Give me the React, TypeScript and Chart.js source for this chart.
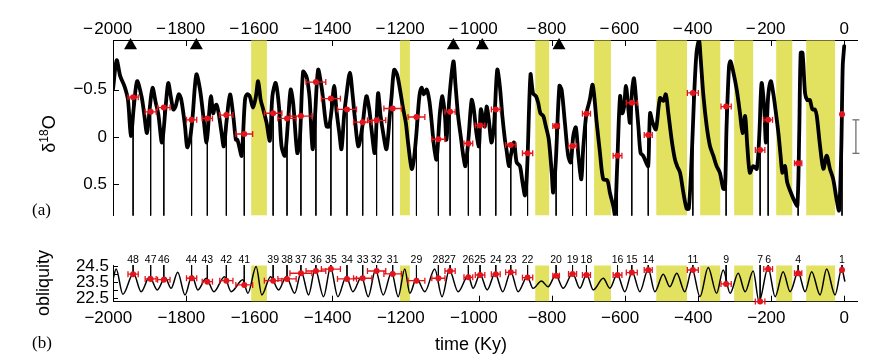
import React, { useEffect, useRef } from "react";
import { Chart, registerables } from "chart.js";
Chart.register(...registerables);

const FONT = "'Liberation Sans', Arial, Helvetica, sans-serif";
const SERIF = "'Liberation Serif', 'Times New Roman', serif";
const RED = "#e3141b";
const BAND = "rgb(226,226,96)";

// axis limits
const AGE_MIN = -2000;
const AGE_MAX = 35;
const D18O_MIN = -1.026;
const D18O_MAX = 0.837;
const OBL_MIN = 22.29;
const OBL_MAX = 24.56;

// tick values
const ageTicks = [-2000, -1800, -1600, -1400, -1200, -1000, -800, -600, -400, -200, 0];
const d18oTicks = [-0.5, 0, 0.5];
const oblLabelTicks = [22.5, 23.5, 24.5];
const oblMinorTicks = [22.5, 23, 23.5, 24, 24.5];

// benthic d18O stack (ky, per mil)
const d18oAge = [
  -2000, -1990, -1980, -1968, -1959, -1951, -1943, -1934, -1922, -1915,
  -1907, -1899, -1892, -1883, -1876, -1866, -1856, -1849, -1842, -1835,
  -1829, -1820, -1813, -1803, -1797, -1790, -1783, -1772, -1762, -1753,
  -1744, -1737, -1732, -1726, -1721, -1717, -1711, -1703, -1697, -1689,
  -1680, -1671, -1664, -1660, -1655, -1648, -1639, -1633, -1626, -1617,
  -1609, -1603, -1596, -1589, -1580, -1571, -1564, -1555, -1546, -1539,
  -1530, -1521, -1514, -1507,
  -1496, -1489, -1480, -1471, -1466, -1462, -1454, -1448, -1439, -1430,
  -1425, -1416, -1409, -1402, -1395, -1389, -1381, -1375, -1368, -1361,
  -1352, -1345, -1339, -1329, -1318, -1307, -1299, -1293, -1284, -1275,
  -1268, -1261, -1252, -1243, -1238, -1231, -1223, -1215, -1206, -1199,
  -1193, -1183, -1177, -1170, -1162, -1156, -1150, -1142, -1135, -1129,
  -1122, -1115, -1106, -1099, -1092, -1088, -1079, -1069, -1063, -1056,
  -1049, -1042, -1036, -1028, -1019, -1013, -1006, -999, -994, -987,
  -983, -978, -972, -965, -958, -949, -942, -935, -928, -924,
  -917, -912, -903, -896, -887, -880, -873, -867, -858, -851,
  -843, -837, -831, -823, -816, -808, -800, -796, -789, -779,
  -773, -764, -755, -748, -741, -734, -727, -719, -714, -705,
  -696,
  -688, -677, -668, -659, -648, -641, -632, -627, -621, -613,
  -607, -602, -597, -591, -586, -580, -575, -570, -563, -557,
  -550, -542, -536, -531, -524, -515, -504, -495, -488, -481,
  -472, -463, -457, -449, -440, -431, -425, -417, -411, -404,
  -397, -393, -385, -376, -367, -358, -349, -340, -331, -326,
  -322, -315, -311, -303, -294, -285, -278, -271, -265, -258,
  -249, -239, -232, -226, -219, -214, -208, -201, -194, -188,
  -180, -174, -169, -162, -156, -146, -135, -128, -123, -119,
  -114, -107, -101, -94, -87, -80, -75, -66, -57, -48,
  -39, -30, -21, -14, -8, -4, 0,
];
const d18oValue = [
  -0.5, -0.81, -0.64, -0.53, -0.39, -0.01, -0.32, -0.59, -0.43, -0.25,
  -0.04, -0.32, -0.52, -0.36, -0.24, 0.06, -0.32, -0.57, -0.43, -0.29,
  -0.32, -0.45, -0.39, -0.11, 0.11, 0.03, -0.18, -0.66, -0.5, -0.22,
  0.06, -0.25, -0.43, -0.25, -0.32, -0.34, -0.25, -0.04, 0.1, -0.18,
  -0.45, -0.22, 0.03, 0.03, 0.1, 0.2, -0.39, -0.45, -0.43, -0.31,
  -0.43, -0.59, -0.39, -0.29, -0.15, 0.04, -0.43, -0.57, -0.32, 0.1,
  0.2, -0.18, -0.5, -0.35,
  0.17, 0.03, -0.69, -0.64, -0.54, -0.4, 0.13, -0.18, -0.71, -0.54,
  -0.39, -0.11, -0.11, -0.29, -0.54, -0.29, -0.04, 0.13, -0.22, -0.46,
  -0.68, -0.46, -0.22, 0.1, -0.11, -0.43, -0.29, -0.08, 0.17, -0.46,
  -0.22, -0.04, 0.13, -0.22, -0.43, -0.71, -0.66, -0.5, -0.29, -0.15,
  0.06, 0.34, 0.24, -0.04, -0.43, -0.52, -0.45, -0.5, -0.39, -0.18,
  0.1, 0.24, -0.25, -0.43, -0.22, 0.03, -0.46, -0.8, -0.54, -0.22,
  -0.01, 0.2, 0.31, 0.03, -0.39, -0.29, -0.04, 0.1, -0.29, -0.18,
  -0.11, -0.32, -0.18, 0.06, -0.11, -0.71, -0.54, -0.22, 0.03, 0.13,
  0.31, 0.2, 0.06, 0.27, 0.31, 0.48, 0.62, 0.31, -0.66, -0.46,
  -0.43, -0.36, -0.25, -0.22, -0.11, 0.03, 0.38, 0.59, 0.27, -0.54,
  -0.5, -0.15, 0.2, 0.27, -0.01, -0.1, 0.2, 0.45, 0.13, -0.25,
  -0.39,
  -0.55, -0.15, 0.17, 0.45, 0.46, 0.59, 0.73, 0.83, 0.31, -0.43,
  -0.25, -0.32, -0.54, -0.32, -0.15, -0.5, -0.62, -0.43, -0.11, 0.17,
  0.2, 0.27, 0.31, -0.25, -0.15, -0.08, -0.41, -0.38, -0.45, -0.25,
  0.03, 0.24, 0.31, 0.38, 0.59, 0.76, 0.76, 0.2, -0.39, -0.89,
  -1.03, -0.85, -0.43, -0.11, 0.1, 0.2, 0.31, 0.38, 0.55, 0.55,
  -0.08, -0.75, -0.8, -0.68, -0.5, -0.25, -0.04, -0.22, 0.1, 0.38,
  0.31, 0.34, -0.04, -0.57, -0.32, 0.06, -0.43, -0.59, -0.46, -0.29,
  -0.04, 0.2, 0.38, 0.31, 0.48, 0.59, 0.69, 0.73, -0.04, -0.89,
  -0.89, -0.46, -0.39, -0.39, -0.29, -0.29, -0.22, 0.1, 0.34, 0.2,
  0.34, 0.45, 0.66, 0.78, 0.13, -0.75, -0.96,
];

// obliquity (degrees): successive maxima and minima
const oblAge = [
  -2000, -1991.5, -1973, -1944, -1923, -1900, -1879, -1857.5, -1841, -1823,
  -1803, -1784, -1768, -1745, -1724, -1695, -1677, -1645, -1631, -1608.5,
  -1593, -1569, -1547, -1526, -1503, -1485, -1465, -1447, -1424, -1405,
  -1385, -1362, -1344, -1320, -1302, -1282, -1261, -1238, -1220, -1202,
  -1188, -1170, -1147, -1120, -1100, -1080, -1056, -1028.5, -1015, -996,
  -976.5, -955, -934, -912, -892, -867, -851, -828, -810, -789,
  -768.5, -743, -723, -704.5, -686.5, -659, -641, -621, -600, -580,
  -559, -536, -518, -495, -477, -458, -436, -416, -394.5, -372,
  -349, -331, -312, -290, -271, -249, -233, -208, -189, -167,
  -148, -126, -107, -89, -66, -48, -25, -7, 2,
];
const oblValue = [
  23.64, 24.31, 22.75, 24.05, 22.91, 23.84, 23.02, 23.78, 23.12, 24.11,
  22.71, 23.9, 23.02, 23.74, 22.91, 23.84, 22.91, 23.64, 22.81, 24.46,
  22.71, 23.84, 23.02, 23.84, 22.81, 24.15, 22.71, 24.31, 22.6, 24.4,
  22.6, 23.84, 22.91, 23.84, 22.6, 24.25, 22.71, 24.11, 22.6, 24.31,
  22.81, 23.74, 22.91, 24.31, 22.6, 24.25, 22.91, 23.9, 23.12, 23.99,
  23.02, 24.05, 22.91, 24.15, 22.91, 23.84, 23.12, 23.57, 23.22, 23.94,
  23.12, 24.05, 23.12, 23.99, 23.02, 23.74, 23.12, 23.99, 22.91, 24.15,
  22.91, 24.31, 22.91, 23.99, 23.22, 24.05, 22.91, 24.31, 22.6, 24.4,
  22.81, 24.25, 22.81, 24.05, 22.91, 24.19, 22.3, 24.4, 22.6, 24.15,
  22.91, 24.11, 22.91, 24.15, 22.71, 24.31, 22.71, 24.31, 23.53,
];

// numbered obliquity peaks with matched d18O minima
const peakNumber = [48, 47, 46, 44, 43, 42, 41, 39, 38, 37, 36, 35, 34, 33, 32, 31, 29, 28, 27, 26, 25, 24, 23, 22, 20, 19, 18, 16, 15, 14, 11, 9, 7, 6, 4, 1];
const peakAge = [-1945, -1897, -1861, -1785, -1742, -1690, -1641, -1562, -1524, -1486, -1445, -1404, -1360, -1317, -1279, -1235, -1170, -1110, -1078, -1028, -996, -953, -912, -866, -788, -743, -705, -620, -581, -536, -414, -323, -230, -208, -126, -6];
const peakAgeErr = [14, 15, 17, 14, 14, 18, 23, 24, 25, 30, 27, 26, 26, 25, 25, 24, 23, 18, 14, 12, 13, 12, 14, 14, 9, 11, 11, 12, 15, 11, 15, 14, 13, 12, 10, 2];
const peakD18O = [-0.42, -0.265, -0.31, -0.18, -0.195, -0.23, -0.03, -0.25, -0.195, -0.22, -0.58, -0.405, -0.29, -0.155, -0.175, -0.3, -0.21, 0.026, -0.265, 0.07, -0.12, -0.29, 0.086, 0.174, -0.114, 0.097, -0.245, 0.2, -0.36, -0.02, -0.465, -0.32, 0.14, -0.18, 0.28, -0.24];
const peakObliquity = [23.99, 23.7, 23.65, 23.74, 23.53, 23.59, 23.33, 23.59, 23.7, 24.05, 24.19, 24.31, 23.7, 23.74, 24.19, 24.01, 23.59, 23.74, 24.19, 23.8, 23.94, 23.99, 24.11, 23.78, 23.9, 24.01, 23.94, 23.94, 24.09, 24.25, 24.25, 23.39, 22.3, 24.31, 24.05, 24.25];

// skipped obliquity cycles (shaded)
const bandStart = [-1622, -1215, -845, -684, -514, -394, -301, -186, -104];
const bandEnd = [-1579, -1188, -807, -638, -430, -339, -249, -142, -25];

// triangle markers
const triangleAge = [-1952, -1772, -1069, -990, -780];
const triangleLevel = -0.968;

// gray uncertainty bar
const scaleBarAge = 32;
const scaleBarLow = -0.18;
const scaleBarHigh = 0.175;

const fmtTop = (v: number) => (v < 0 ? `\u2212\u200A${Math.abs(v)}\u2007\u200A` : `${v}`);
const fmtBottom = (v: number) => (v < 0 ? `\u2212${Math.abs(v)}\u2007` : `${v}`);
const fmtD18O = (v: number) => (v < 0 ? `\u2212${Math.abs(v)}` : `${v}`);

function drawBands(chart: any) {
  const { ctx, chartArea: ca, scales } = chart;
  const x = scales.x;
  ctx.save();
  ctx.fillStyle = BAND;
  bandStart.forEach((s, i) => {
    const x0 = x.getPixelForValue(s);
    const x1 = x.getPixelForValue(bandEnd[i]);
    ctx.fillRect(x0, ca.top + 0.5, x1 - x0, ca.bottom - ca.top - 1);
  });
  ctx.restore();
}

const topDecor = {
  id: "topDecor",
  beforeDatasetsDraw(chart: any) {
    const { ctx, chartArea: ca, scales } = chart;
    const { x, y } = scales;
    ctx.save();
    ctx.strokeStyle = "#000";
    ctx.lineWidth = 1;
    ctx.beginPath();
    ageTicks.forEach((v) => {
      const px = Math.round(x.getPixelForValue(v)) + 0.5;
      ctx.moveTo(px, ca.top);
      ctx.lineTo(px, ca.top + 6);
    });
    d18oTicks.forEach((v) => {
      const py = Math.round(y.getPixelForValue(v)) + 0.5;
      ctx.moveTo(ca.left, py);
      ctx.lineTo(ca.left + 6, py);
    });
    ctx.stroke();
    ctx.restore();
    drawBands(chart);
  },
  afterDraw(chart: any) {
    const { ctx } = chart;
    ctx.save();
    ctx.fillStyle = "#000";
    // rotated y title: delta 18 O
    ctx.translate(55, 134);
    ctx.rotate(-Math.PI / 2);
    ctx.textBaseline = "alphabetic";
    ctx.textAlign = "left";
    const big = `18px ${FONT}`;
    const small = `12px ${FONT}`;
    ctx.font = big;
    const w1 = ctx.measureText("\u03b4").width;
    const w3 = ctx.measureText("O").width;
    ctx.font = small;
    const w2 = ctx.measureText("18").width;
    let cx = -(w1 + w2 + w3) / 2;
    ctx.font = big;
    ctx.fillText("\u03b4", cx, 0);
    cx += w1;
    ctx.font = small;
    ctx.fillText("18", cx, -7);
    cx += w2;
    ctx.font = big;
    ctx.fillText("O", cx, 0);
    ctx.restore();

    ctx.save();
    ctx.fillStyle = "#000";
    ctx.font = `17px ${SERIF}`;
    ctx.textBaseline = "middle";
    ctx.textAlign = "left";
    ctx.fillText("(a)", 32, 211);
    ctx.restore();
  },
};

const bottomDecor = {
  id: "bottomDecor",
  beforeDatasetsDraw(chart: any) {
    const { ctx, chartArea: ca, scales } = chart;
    const { x, y } = scales;
    ctx.save();
    ctx.strokeStyle = "#000";
    ctx.lineWidth = 1;
    ctx.beginPath();
    ageTicks.forEach((v) => {
      const px = Math.round(x.getPixelForValue(v)) + 0.5;
      ctx.moveTo(px, ca.bottom);
      ctx.lineTo(px, ca.bottom - 6);
    });
    oblMinorTicks.forEach((v) => {
      const py = Math.round(y.getPixelForValue(v)) + 0.5;
      ctx.moveTo(ca.left, py);
      ctx.lineTo(ca.left + 5, py);
    });
    ctx.stroke();
    ctx.restore();
    drawBands(chart);
  },
  afterDraw(chart: any) {
    const { ctx, chartArea: ca, scales } = chart;
    const x = scales.x;
    ctx.save();
    ctx.fillStyle = "#000";
    ctx.font = `10.5px ${FONT}`;
    ctx.textAlign = "center";
    ctx.textBaseline = "alphabetic";
    peakNumber.forEach((n, i) => {
      ctx.fillText(String(n), x.getPixelForValue(peakAge[i]), ca.top - 1.7);
    });
    ctx.restore();

    ctx.save();
    ctx.fillStyle = "#000";
    ctx.translate(48.5, 58);
    ctx.rotate(-Math.PI / 2);
    ctx.font = `18px ${FONT}`;
    ctx.textAlign = "center";
    ctx.textBaseline = "alphabetic";
    ctx.fillText("obliquity", 0, 0);
    ctx.restore();

    ctx.save();
    ctx.fillStyle = "#000";
    ctx.font = `18px ${FONT}`;
    ctx.textAlign = "center";
    ctx.textBaseline = "middle";
    ctx.fillText("time (Ky)", 471, 120);
    ctx.font = `17px ${SERIF}`;
    ctx.textAlign = "left";
    ctx.fillText("(b)", 32, 119);
    ctx.restore();
  },
};

function markerDatasets(values: number[]) {
  const errs: any[] = [];
  peakAge.forEach((a, i) => {
    errs.push({ x: a - peakAgeErr[i], y: values[i] }, { x: a + peakAgeErr[i], y: values[i] }, { x: a, y: null });
  });
  const pts = peakAge.map((a, i) => ({ x: a, y: values[i] }));
  return [
    {
      data: errs,
      showLine: true,
      spanGaps: false,
      borderColor: RED,
      borderWidth: 1.3,
      pointStyle: "line",
      pointRotation: 90,
      pointRadius: 3,
      pointBorderColor: RED,
      pointBorderWidth: 1.3,
      order: 3,
      clip: false,
    },
    {
      data: pts,
      showLine: false,
      pointStyle: "circle",
      pointRadius: 3,
      pointBackgroundColor: RED,
      pointBorderColor: RED,
      pointBorderWidth: 0,
      order: 2,
      clip: false,
    },
  ];
}

function topConfig(): any {
  const curve = d18oAge.map((a, i) => ({ x: a, y: d18oValue[i] }));
  const stems: any[] = [];
  peakAge.forEach((a, i) => {
    stems.push({ x: a, y: peakD18O[i] }, { x: a, y: D18O_MAX }, { x: a, y: null });
  });
  const tri = triangleAge.map((a) => ({ x: a, y: triangleLevel }));
  const bar = [
    { x: scaleBarAge, y: scaleBarLow },
    { x: scaleBarAge, y: scaleBarHigh },
  ];
  return {
    type: "scatter",
    data: {
      datasets: [
        { data: stems, showLine: true, spanGaps: false, borderColor: "#000", borderWidth: 1, pointRadius: 0, order: 5 },
        {
          data: curve,
          showLine: true,
          borderColor: "#000",
          borderWidth: 3.8,
          tension: 0.3,
          pointRadius: 0,
          borderJoinStyle: "round",
          borderCapStyle: "round",
          order: 4,
        },
        ...markerDatasets(peakD18O),
        {
          data: tri,
          showLine: false,
          pointStyle: "triangle",
          pointRadius: 7.5,
          pointBackgroundColor: "#000",
          pointBorderColor: "#000",
          pointBorderWidth: 0,
          order: 1,
          clip: false,
        },
        {
          data: bar,
          showLine: true,
          borderColor: "#666",
          borderWidth: 1.2,
          pointStyle: "line",
          pointRadius: 3.5,
          pointBorderColor: "#666",
          pointBorderWidth: 1.2,
          order: 1,
          clip: false,
        },
      ],
    },
    options: {
      animation: false,
      responsive: false,
      devicePixelRatio: 1,
      events: [],
      layout: { padding: { left: 0, right: 21, top: 0, bottom: 15 } },
      plugins: { legend: { display: false }, tooltip: { enabled: false } },
      scales: {
        x: {
          type: "linear",
          position: "top",
          min: AGE_MIN,
          max: AGE_MAX,
          afterBuildTicks: (s: any) => {
            s.ticks = ageTicks.map((v) => ({ value: v }));
          },
          afterFit: (s: any) => {
            s.height = 40;
          },
          ticks: {
            callback: (v: any) => fmtTop(Number(v)),
            font: { family: FONT, size: 17 },
            color: "#000",
            padding: 0,
            maxRotation: 0,
            autoSkip: false,
          },
          grid: { display: false, drawTicks: false },
          border: { display: true, color: "#000", width: 1 },
        },
        y: {
          type: "linear",
          reverse: true,
          min: D18O_MIN,
          max: D18O_MAX,
          afterBuildTicks: (s: any) => {
            s.ticks = d18oTicks.map((v) => ({ value: v }));
          },
          afterFit: (s: any) => {
            s.width = 113;
          },
          ticks: {
            callback: (v: any) => fmtD18O(Number(v)),
            font: { family: FONT, size: 17 },
            color: "#000",
            padding: 6,
            autoSkip: false,
          },
          grid: { display: false, drawTicks: false },
          border: { display: true, color: "#000", width: 1 },
        },
      },
    },
    plugins: [topDecor],
  };
}

function bottomConfig(): any {
  const curve = oblAge.map((a, i) => ({ x: a, y: oblValue[i] }));
  const stems: any[] = [];
  peakAge.forEach((a, i) => {
    stems.push({ x: a, y: OBL_MAX }, { x: a, y: peakObliquity[i] }, { x: a, y: null });
  });
  return {
    type: "scatter",
    data: {
      datasets: [
        { data: stems, showLine: true, spanGaps: false, borderColor: "#000", borderWidth: 1, pointRadius: 0, order: 5 },
        {
          data: curve,
          showLine: true,
          borderColor: "#000",
          borderWidth: 1.5,
          cubicInterpolationMode: "monotone",
          pointRadius: 0,
          order: 4,
        },
        ...markerDatasets(peakObliquity),
      ],
    },
    options: {
      animation: false,
      responsive: false,
      devicePixelRatio: 1,
      events: [],
      layout: { padding: { left: 0, right: 21, top: 40, bottom: 0 } },
      plugins: { legend: { display: false }, tooltip: { enabled: false } },
      scales: {
        x: {
          type: "linear",
          position: "bottom",
          min: AGE_MIN,
          max: AGE_MAX,
          afterBuildTicks: (s: any) => {
            s.ticks = ageTicks.map((v) => ({ value: v }));
          },
          afterFit: (s: any) => {
            s.height = 58.3;
          },
          ticks: {
            callback: (v: any) => fmtBottom(Number(v)),
            font: { family: FONT, size: 17 },
            color: "#000",
            padding: 6.6,
            maxRotation: 0,
            autoSkip: false,
          },
          grid: { display: false, drawTicks: false },
          border: { display: true, color: "#000", width: 1 },
        },
        y: {
          type: "linear",
          min: OBL_MIN,
          max: OBL_MAX,
          afterBuildTicks: (s: any) => {
            s.ticks = oblLabelTicks.map((v) => ({ value: v }));
          },
          afterFit: (s: any) => {
            s.width = 113;
          },
          ticks: {
            callback: (v: any) => `${v}`,
            font: { family: FONT, size: 17 },
            color: "#000",
            padding: 4,
            autoSkip: false,
          },
          grid: { display: false, drawTicks: false },
          border: { display: true, color: "#000", width: 1 },
        },
      },
    },
    plugins: [bottomDecor],
  };
}

export default function App() {
  const topRef = useRef<HTMLCanvasElement>(null);
  const botRef = useRef<HTMLCanvasElement>(null);
  useEffect(() => {
    const top = new Chart(topRef.current as HTMLCanvasElement, topConfig());
    const bot = new Chart(botRef.current as HTMLCanvasElement, bottomConfig());
    return () => {
      top.destroy();
      bot.destroy();
    };
  }, []);
  return (
    <div style={{ position: "absolute", left: 0, top: 0, width: 878, height: 360, background: "#fff" }}>
      <canvas
        ref={topRef}
        width={878}
        height={232}
        style={{ position: "absolute", left: 0, top: 0, width: 878, height: 232 }}
      />
      <canvas
        ref={botRef}
        width={878}
        height={135}
        style={{ position: "absolute", left: 0, top: 225, width: 878, height: 135 }}
      />
    </div>
  );
}
